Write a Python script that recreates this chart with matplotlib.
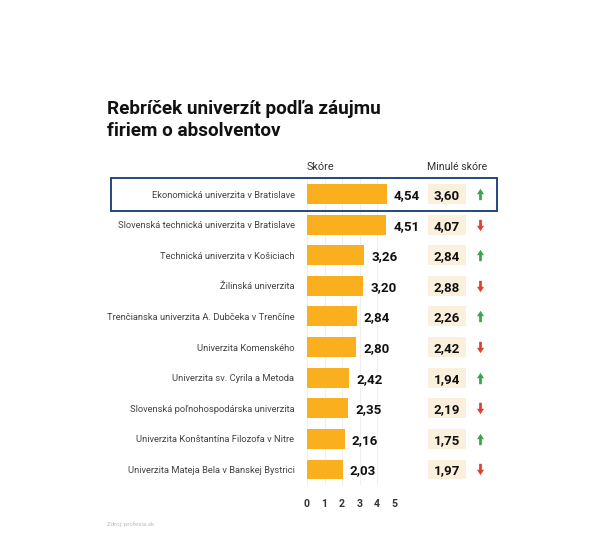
import matplotlib
matplotlib.use("Agg")
import matplotlib.pyplot as plt
from matplotlib.patches import Rectangle
from matplotlib.path import Path

universities = [
    "Ekonomická univerzita v Bratislave",
    "Slovenská technická univerzita v Bratislave",
    "Technická univerzita v Košiciach",
    "Žilinská univerzita",
    "Trenčianska univerzita A. Dubčeka v Trenčíne",
    "Univerzita Komenského",
    "Univerzita sv. Cyrila a Metoda",
    "Slovenská poľnohospodárska univerzita",
    "Univerzita Konštantína Filozofa v Nitre",
    "Univerzita Mateja Bela v Banskej Bystrici",
]
score = [4.54, 4.51, 3.26, 3.20, 2.84, 2.80, 2.42, 2.35, 2.16, 2.03]
past_score = [3.60, 4.07, 2.84, 2.88, 2.26, 2.42, 1.94, 2.19, 1.75, 1.97]
trend = ["up", "down", "up", "down", "up", "down", "up", "down", "up", "down"]
ticks = [0, 1, 2, 3, 4, 5]

W, H = 600, 558
plt.rcParams["font.family"] = ["Roboto", "DejaVu Sans"]
fig = plt.figure(figsize=(W / 100, H / 100), dpi=100, facecolor="white")

def px_box(x0, y0, x1, y1):
    return [x0 / W, 1 - y1 / H, (x1 - x0) / W, (y1 - y0) / H]

# arrow shapes
up_arrow = Path([(-0.62, 0.05), (0, 1), (0.62, 0.05), (0.24, 0.05), (0.24, -1), (-0.24, -1), (-0.24, 0.05), (-0.62, 0.05)], closed=True)
down_arrow = Path([(-0.62, -0.05), (0, -1), (0.62, -0.05), (0.24, -0.05), (0.24, 1), (-0.24, 1), (-0.24, -0.05), (-0.62, -0.05)], closed=True)

# bars
ax = fig.add_axes(px_box(307, 178.7, 394.8, 484.8))
rows = list(range(len(score)))
ax.barh(rows, score, height=0.65, color="#FAAF1E", zorder=2)
ax.set_xlim(0, 5)
ax.set_ylim(9.5, -0.5)
ax.set_xticks(ticks)
ax.set_xticklabels([str(t) for t in ticks], fontsize=7.6, fontweight="bold", color="#333333")
ax.set_yticks(rows)
ax.set_yticklabels(universities, fontsize=6.75, color="#444444")
ax.tick_params(axis="x", length=0, pad=10.5)
ax.tick_params(axis="y", length=0, pad=9)
ax.grid(axis="x", color="#EFEFEF", linewidth=0.8, zorder=0)
ax.set_axisbelow(True)
for s in ax.spines.values():
    s.set_visible(False)
for r, v in zip(rows, score):
    ax.annotate(f"{v:.2f}".replace(".", ","), (v, r), xytext=(5, 0), textcoords="offset points",
                va="center_baseline", ha="left", fontsize=9.6, fontweight="bold", color="#111111",
                annotation_clip=False)

# past score column, shares the rows of the bars
ax2 = fig.add_axes(px_box(427.5, 178.7, 490, 484.8), sharey=ax)
ax2.set_xlim(427.5, 490)
ax2.axis("off")
ax2.barh(rows, [38.5] * len(rows), left=427.5, height=0.65, color="#FBF0DC")
for r, v, t in zip(rows, past_score, trend):
    ax2.text(446.8, r, f"{v:.2f}".replace(".", ","), ha="center", va="center_baseline",
             fontsize=9.6, fontweight="bold", color="#111111")
    ax2.plot([479.8], [r], marker=up_arrow if t == "up" else down_arrow, markersize=8.2, linestyle="none",
             color="#3FA34D" if t == "up" else "#E0412F", markeredgewidth=0)

# text and highlight frame
fig.text(107 / W, 1 - 108.5 / H, "Rebríček univerzít podľa záujmu", fontsize=13.6, fontweight="bold",
         color="#111111", va="center")
fig.text(107 / W, 1 - 131 / H, "firiem o absolventov", fontsize=13.6, fontweight="bold",
         color="#111111", va="center")
fig.text(307 / W, 1 - 166.5 / H, "Skóre", fontsize=7.8, color="#333333", va="center")
fig.text(427 / W, 1 - 166.5 / H, "Minulé skóre", fontsize=7.6, color="#333333", va="center")
fig.text(107 / W, 1 - 524 / H, "Zdroj: profesia.sk", fontsize=4.4, color="#BBBBBB", va="center")
fig.add_artist(Rectangle((110.5 / W, 1 - 210.5 / H), 386.5 / W, 32.5 / H, transform=fig.transFigure,
                         fill=False, edgecolor="#24477C", linewidth=1.4))

fig.savefig("out.png", dpi=100, facecolor="white")
